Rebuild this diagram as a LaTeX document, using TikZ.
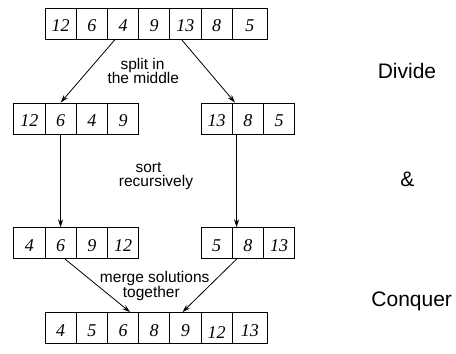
\documentclass[tikz,border=0pt]{standalone}
\usepackage{fontspec}
\setmainfont{Liberation Serif}
\newfontfamily\helv{Liberation Sans}
\usetikzlibrary{arrows.meta,calc}
\begin{document}
\begin{tikzpicture}[x=1pt,y=-1pt,
 cell/.style={draw,line width=0.8pt,minimum width=31.2pt,minimum height=31pt,inner sep=0pt,
   text height=16pt,text depth=0pt,font=\fontsize{18}{18}\selectfont\itshape},
 lastcell/.style={cell,minimum width=35.5pt},
 arr/.style={line width=0.8pt,-{Stealth[length=8pt,width=5pt]}},
 lbl/.style={anchor=base,inner sep=0pt,font=\helv\fontsize{15.5}{15}\selectfont},
 big/.style={anchor=base,inner sep=0pt,font=\helv\fontsize{21}{21}\selectfont}]
\useasboundingbox (0,0) rectangle (456,354);
% top row
\foreach \v [count=\i] in {12,6,4,9,13,8}
  \node[cell] (t\i) at ({29.4+31.2*\i},23.7) {\v};
\node[lastcell] (t7) at (249.95,23.7) {5};
% second row
\foreach \v [count=\i from 0] in {12,6,4,9}
  \node[cell] (L\i) at ({29.4+31.2*\i},118.5) {\v};
\foreach \v [count=\i from 6] in {13,8,5}
  \node[cell] (R\i) at ({29.4+31.2*\i},118.5) {\v};
% third row
\foreach \v [count=\i from 0] in {4,6,9,12}
  \node[cell] (S\i) at ({29.4+31.2*\i},243.2) {\v};
\foreach \v [count=\i from 6] in {5,8,13}
  \node[cell] (Q\i) at ({29.4+31.2*\i},243.2) {\v};
% bottom row
\foreach \v [count=\i] in {4,5,6,8,9}
  \node[cell] (b\i) at ({29.4+31.2*\i},328) {\v};
\node[cell] (b6) at ({29.4+31.2*6},328) {\raisebox{-2pt}{12}};
\node[lastcell] (b7) at (249.95,328) {13};
% arrows
\draw[arr] ($(t3.south west)!0.25!(t3.south east)$) -- (L1.north);
\draw[arr] ($(t5.south west)!0.38!(t5.south east)$) -- ($(R7.north west)!0.1!(R7.north east)$);
\draw[arr] (L1.south) -- (S1.north);
\draw[arr] ($(R7.south west)!0.15!(R7.south east)$) -- ($(Q7.north west)!0.15!(Q7.north east)$);
\draw[arr] ($(S1.south west)!0.64!(S1.south east)$) -- ($(b3.north west)!0.72!(b3.north east)$);
\draw[arr] ($(Q7.south west)!0.15!(Q7.south east)$) -- ($(b5.north west)!0.41!(b5.north east)$);
% labels
\node[lbl] (split1) at (142.5,69) {split in};
\node[lbl] (split2) at (143.3,83.3) {the middle};
\node[lbl] (sort1) at (148.5,172.3) {sort};
\node[lbl] (sort2) at (156,186.7) {recursively};
\node[lbl] (merge1) at (154.7,282.7) {merge solutions};
\node[lbl] (merge2) at (151.3,297.3) {together};
\node[big] (divide) at (407,78.3) {Divide};
\node[big] (amp) at (407.5,186) {\&};
\node[big] (conquer) at (411.7,306) {Conquer};
\end{tikzpicture}
\end{document}
